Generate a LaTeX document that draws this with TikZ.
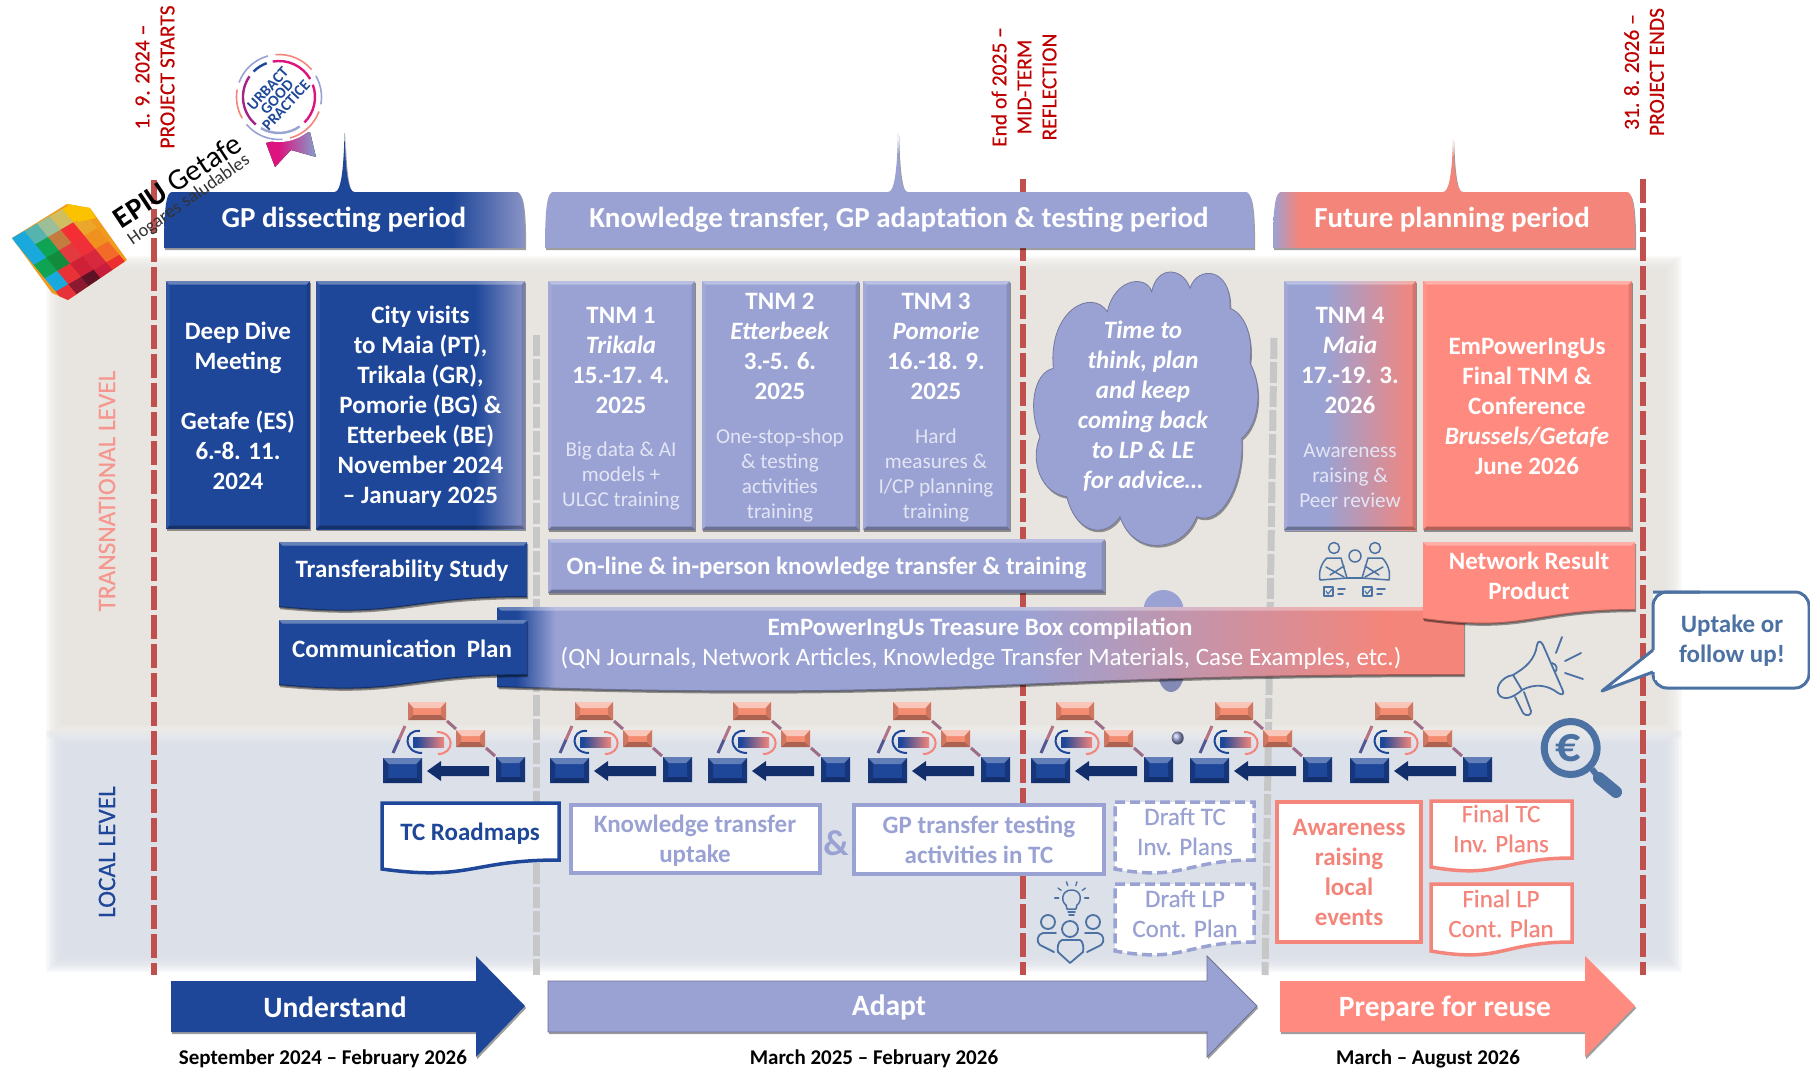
\documentclass[tikz,border=0pt]{standalone}
\usepackage{fontspec}
\setmainfont{Carlito}
\newfontfamily\semifam[FakeBold=0.35]{Carlito}
\usetikzlibrary{shadows,calc}
\definecolor{navy}{HTML}{1E4799}
\definecolor{navydk}{HTML}{122E6B}
\definecolor{fadeblue}{HTML}{8A94C6}
\definecolor{lav}{HTML}{9AA2D4}
\definecolor{salm}{HTML}{F4857B}
\definecolor{salmb}{HTML}{FF8A7F}
\definecolor{trisalm}{HTML}{F48C72}
\definecolor{redline}{HTML}{C0504D}
\definecolor{darkred}{HTML}{C00000}
\definecolor{bandg}{HTML}{E8E5E1}
\definecolor{bandb}{HTML}{DCE0E8}
\definecolor{icon}{HTML}{4C71A3}
\definecolor{smalltxt}{HTML}{E2E5F4}
\definecolor{cubeor}{HTML}{F09A1E}
\definecolor{cubegold}{HTML}{FBC200}
\definecolor{ribpink}{HTML}{DD1480}
\pgfdeclarehorizontalshading{navyfade}{100bp}{color(0bp)=(navy); color(63bp)=(navy); color(75bp)=(fadeblue); color(100bp)=(fadeblue)}
\pgfdeclarehorizontalshading{tabnavy}{100bp}{color(0bp)=(navy); color(65bp)=(navy); color(75bp)=(fadeblue); color(100bp)=(fadeblue)}
\pgfdeclarehorizontalshading{tabfut}{100bp}{color(0bp)=(lav); color(25bp)=(lav); color(28.5bp)=(salm); color(100bp)=(salm)}
\pgfdeclarehorizontalshading{tnmfour}{100bp}{color(0bp)=(lav); color(40bp)=(lav); color(75bp)=(salm); color(100bp)=(salm)}
\pgfdeclarehorizontalshading{treasure}{100bp}{color(0bp)=(navy); color(26bp)=(navy); color(28bp)=(lav); color(52bp)=(lav); color(71bp)=(salm); color(100bp)=(salm)}
\pgfdeclarehorizontalshading{iconbar}{100bp}{color(0bp)=(navy); color(30bp)=(navy); color(75bp)=(salm); color(100bp)=(salm)}
\pgfdeclarehorizontalshading{ribbon}{100bp}{color(0bp)=(ribpink); color(38bp)=(ribpink); color(72bp)=(fadeblue); color(100bp)=(fadeblue)}
\newcommand\fz[2]{\fontsize{#1}{#2}\selectfont}
\newcommand\smallbev[8]{%
  \fill[#5] (#1,#2) rectangle (#3,#4);
  \fill[#6] (#1,#2) -- (#3,#2) -- ({#3-6},{#2+6}) -- ({#1+6},{#2+6}) -- cycle;
  \fill[#7] (#1,#4) -- (#3,#4) -- ({#3-5},{#4-5}) -- ({#1+5},{#4-5}) -- cycle;
  \fill[#8] (#3,#2) -- (#3,#4) -- ({#3-5},{#4-5}) -- ({#3-5},{#2+6}) -- cycle;
  \fill[#8] (#1,#2) -- (#1,#4) -- ({#1+5},{#4-5}) -- ({#1+5},{#2+6}) -- cycle;
}
\tikzset{
 softshadow/.style={drop shadow={shadow xshift=1.2pt,shadow yshift=-2.2pt,opacity=.38,fill=black}},
 bev/.style={path picture={
   \coordinate (nw) at (path picture bounding box.north west);
   \coordinate (ne) at (path picture bounding box.north east);
   \coordinate (sw) at (path picture bounding box.south west);
   \coordinate (se) at (path picture bounding box.south east);
   \fill[white,opacity=.32] (nw)--(ne)--([shift={(-#1,#1)}]ne)--([shift={(#1,#1)}]nw)--cycle;
   \fill[black,opacity=.3] (sw)--(se)--([shift={(-#1,-#1)}]se)--([shift={(#1,-#1)}]sw)--cycle;
   \fill[black,opacity=.12] (ne)--(se)--([shift={(-#1,-#1)}]se)--([shift={(-#1,#1)}]ne)--cycle;
   \fill[white,opacity=.08] (nw)--(sw)--([shift={(#1,-#1)}]sw)--([shift={(#1,#1)}]nw)--cycle;
 }},
 topbev/.style={path picture={
   \coordinate (nw) at (path picture bounding box.north west);
   \coordinate (ne) at (path picture bounding box.north east);
   \fill[white,opacity=.32] (nw)--(ne)--([shift={(-#1,#1)}]ne)--([shift={(#1,#1)}]nw)--cycle;
 }},
 txtbase/.style={align=center,inner sep=0pt,text=white},
 txt/.style={txtbase,yshift=-1.5pt},
 headtxt/.style={txt,font=\fz{29}{30}\bfseries},
 boxtxt/.style={txt,font=\fz{25}{30}\bfseries},
 smalltx/.style={txt,text=smalltxt,font=\fz{21.2}{25}},
 localtxt/.style={txt,font=\fz{25}{30}\bfseries},
 localthin/.style={txt,font=\semifam\fz{25}{30}},
 redrule/.style={draw=redline,line width=5.5pt,dash pattern=on 24pt off 5pt},
 greyrule/.style={draw=black!22,line width=7pt,dash pattern=on 21pt off 3pt},
 datetxt/.style={txtbase,text=darkred,font=\semifam\fz{21.5}{25},rotate=90},
 leveltxt/.style={txtbase,font=\semifam\fz{25.3}{28},rotate=90},
 arrowtxt/.style={txt,font=\fz{29.5}{30}\bfseries},
 periodtxt/.style={txt,text=black,font=\fz{21}{24}\bfseries},
 iconline/.style={draw=icon,line width=1.8pt,line join=round,line cap=round},
 triad/.pic={
   \smallbev{0}{1}{39}{26}{navy}{navy!70!white}{navydk}{navydk!70!navy}
   \smallbev{113}{0}{142}{25}{navy}{navy!70!white}{navydk}{navydk!70!navy}
   \fill[navydk] (106,9) -- (58,9) -- (58,4) -- (44,14) -- (58,24) -- (58,19) -- (106,19) -- cycle;
   \smallbev{25}{-55}{63}{-37}{trisalm}{trisalm!50!white}{trisalm!70!black}{trisalm!85!black}
   \smallbev{73}{-27}{102}{-10}{trisalm}{trisalm!50!white}{trisalm!70!black}{trisalm!85!black}
   \draw[navy!75!salm,line width=3pt] (10,-4) -- (16,-17.5);
   \draw[navy!30!salm,line width=3pt] (16,-17.5) -- (22,-31);
   \draw[salm!60!navy,line width=3pt] (64,-36) -- (73,-28);
   \draw[salm!60!navy,line width=3pt] (103,-9) -- (112,-1);
   \shade[shading=iconbar] (30,-20) rectangle (61,-10);
   \draw[navy,line width=2pt] (37,-26) .. controls (20,-28) and (20,-4) .. (39,-4);
   \draw[salm,line width=2pt] (54,-25) .. controls (72,-25) and (72,-3) .. (55,-3);
 },
}
% name x1 y1 x2 y2 style
\newcommand\bbox[6]{\node[rectangle,inner sep=0pt,minimum width={(#4-#2)*1pt},minimum height={(#5-#3)*1pt},softshadow,bev=3.5,#6] (#1) at ({(#2+#4)/2},{(#3+#5)/2}) {};}
% x1 y1 x2 yR yL style
\newcommand\wave[6]{%
  \pgfmathsetmacro\wxm{(#1+#3)/2}%
  \pgfmathsetmacro\wcc{#5+0.173*(#5-#2)/0.934}%
  \path[#6] (#1,#2) -- (#3,#2) -- (#3,#4) .. controls (\wxm,#4) and (\wxm,\wcc) .. (#1,#5) -- cycle;
}
\newcommand\waveedge[5]{%
  \pgfmathsetmacro\wxm{(#1+#3)/2}%
  \pgfmathsetmacro\wcc{#5+0.173*(#5-#2)/0.934}%
  \draw[black,opacity=.3,line width=2pt] (#3,#4) .. controls (\wxm,#4) and (\wxm,\wcc) .. (#1,#5);
}
% x1 y1 x2 y2 spike-x spike-y style
\newcommand\tab[7]{%
  \path[softshadow,#7] (#1,#4) .. controls (#1,{#2+18}) and ({#1+2},#2) .. ({#1+8},#2) -- ({#5-10},#2)
   .. controls ({#5-4},#2) and ({#5-1},{#2-18}) .. (#5,#6)
   .. controls ({#5+1},{#2-18}) and ({#5+4},#2) .. ({#5+10},#2) -- ({#3-8},#2)
   .. controls ({#3-2},#2) and (#3,{#2+18}) .. (#3,#4) -- cycle;
}
\newcommand\blockarrow[2]{%
  \path[softshadow,#2] #1;
}
\begin{document}
\begin{tikzpicture}[x=1pt,y=-1pt]
\useasboundingbox (0,0) rectangle (1810,1068);
\fill[white] (0,0) rectangle (1810,1068);
% ---------- bands
\foreach \i in {0,...,17}{
  \fill[bandg,opacity=.15] ({46+1.3*\i},{256+1.1*\i}) rectangle ({1682-1.4*\i},{738-1.2*\i});
  \fill[bandb,opacity=.15] ({46+1.3*\i},{730+1.1*\i}) rectangle ({1682-1.4*\i},{972-1.2*\i});
}
% ---------- rules
\coordinate (redAtop) at (154,180); \coordinate (redAbot) at (154,975);
\coordinate (redBtop) at (1023,179); \coordinate (redBbot) at (1023,975);
\coordinate (redCtop) at (1643,179); \coordinate (redCbot) at (1643,975);
\coordinate (greyAtop) at (536,335); \coordinate (greyAbot) at (536,975);
\coordinate (greyBtop) at (1274,338); \coordinate (greyBbot) at (1265,975);
\draw[greyrule] (greyAtop) -- (greyAbot);
\draw[greyrule] (greyBtop) -- (greyBbot);
\draw[redrule] (redAtop) -- (redAbot);
\draw[redrule] (redBtop) -- (redBbot);
\draw[redrule] (redCtop) -- (redCbot);
% ---------- date labels
\node[datetxt] (startlbl) at (155,77) {1. 9. 2024 –\\PROJECT STARTS};
\node[datetxt] (midlbl) at (1024,87) {End of 2025 –\\MID-TERM\\REFLECTION};
\node[datetxt] (endlbl) at (1644,72) {31. 8. 2026 –\\PROJECT ENDS};
% ---------- level labels
\node[leveltxt,text=salm!85!white] (translbl) at (107,491) {TRANSNATIONAL LEVEL};
\node[leveltxt,text=navy] (locallbl) at (107,852) {LOCAL LEVEL};
% ---------- period tabs
\tab{164}{192}{525}{248}{344.5}{133}{shade,shading=tabnavy}
\tab{545}{192}{1254}{248}{898}{133}{fill=lav}
\tab{1273}{192}{1635}{248}{1453}{139}{shade,shading=tabfut}
\node[headtxt] (tabA) at (344,218) {GP dissecting period};
\node[headtxt] (tabB) at (899,218) {Knowledge transfer, GP adaptation \& testing period};
\node[headtxt] (tabC) at (1452,218) {Future planning period};
% ---------- top row boxes
\bbox{deep}{166}{281}{310}{529}{fill=navy}
\bbox{city}{316}{281}{525}{529}{shade,shading=navyfade}
\bbox{tnmA}{548}{281}{695}{530}{fill=lav}
\bbox{tnmB}{702}{281}{859}{530}{fill=lav}
\bbox{tnmC}{863}{281}{1010}{530}{fill=lav}
\bbox{tnmD}{1284}{281}{1416}{530}{shade,shading=tnmfour}
\bbox{final}{1423}{281}{1632}{530}{fill=salmb}
\node[boxtxt] (deepT) at (238,404) {Deep Dive\\Meeting\\[30pt]Getafe (ES)\\6.-8. 11.\\2024};
\node[boxtxt] (cityT) at (420.5,405) {City visits\\to Maia (PT),\\Trikala (GR),\\Pomorie (BG) \&\\Etterbeek (BE)\\November 2024\\– January 2025};
\node[boxtxt] (finalT) at (1527,405) {EmPowerIngUs\\Final TNM \&\\Conference\\\textit{Brussels/Getafe}\\June 2026};
\node[boxtxt] (tnmAh) at (621,359) {TNM 1\\\textit{Trikala}\\15.-17. 4.\\2025};
\node[smalltx] (tnmAb) at (621,474) {Big data \& AI\\models +\\ULGC training};
\node[boxtxt] (tnmBh) at (780,345) {TNM 2\\\textit{Etterbeek}\\3.-5. 6.\\2025};
\node[smalltx] (tnmBb) at (780,473.5) {One-stop-shop\\\& testing\\activities\\training};
\node[boxtxt] (tnmCh) at (936,345) {TNM 3\\\textit{Pomorie}\\16.-18. 9.\\2025};
\node[smalltx] (tnmCb) at (936,473.5) {Hard\\measures \&\\I/CP planning\\training};
\node[boxtxt] (tnmDh) at (1350,359) {TNM 4\\\textit{Maia}\\17.-19. 3.\\2026};
\node[smalltx] (tnmDb) at (1350,474) {Awareness\\raising \&\\Peer review};
% ---------- thought cloud
\path[fill=lav,draw=lav!75!black,line width=.8pt,softshadow] (1053.3,368.3)
 .. controls (1048,310) and (1092,288) .. (1107.3,311.7)
 .. controls (1115,277) and (1147,275) .. (1151.7,291.7)
 .. controls (1157,265) and (1183,267) .. (1190,288.3)
 .. controls (1197,265) and (1232,267) .. (1230,308.3)
 .. controls (1247,315) and (1253,340) .. (1250,363)
 .. controls (1263,387) and (1260,423) .. (1241.7,438.3)
 .. controls (1245,480) and (1223,527) .. (1196.7,516.7)
 .. controls (1183,553) and (1133,557) .. (1120,516.7)
 .. controls (1107,537) and (1077,537) .. (1066.7,496.7)
 .. controls (1040,493) and (1030,460) .. (1040,436.7)
 .. controls (1028,410) and (1033,373) .. (1053.3,368.3) -- cycle;
\node[txt,font=\fz{25}{30}\bfseries\itshape] (cloudtxt) at (1143,405) {Time to\\think, plan\\and keep\\coming back\\to LP \& LE\\for advice…};
% ---------- second row
\bbox{online}{548}{539}{1105}{593}{fill=lav}
\node[boxtxt] (onlineT) at (826.5,566) {On-line \& in-person knowledge transfer \& training};
\wave{279}{542}{527}{597}{607}{fill=navy,softshadow,topbev=3.5}
\waveedge{279}{542}{527}{597}{607}
\node[boxtxt] (transfer) at (402,569) {Transferability Study};
% bubbles behind the treasure box
\fill[lav] (1163.5,610) ellipse (20 and 20);
\fill[lav!85!black] (1171,672) ellipse (13 and 20);
\shade[ball color=lav] (1177.7,738) ellipse (6 and 6.5);
% treasure box
\wave{497.5}{607}{1464}{675}{687}{shade,shading=treasure,softshadow,topbev=3.5}
\waveedge{497.5}{607}{1464}{675}{687}
\node[boxtxt] (treasureA) at (980,627) {EmPowerIngUs Treasure Box compilation};
\node[txt,font=\fz{25}{30}] (treasureB) at (981,657) {(QN Journals, Network Articles, Knowledge Transfer Materials, Case Examples, etc.)};
\wave{279}{620}{527}{675}{685}{fill=navy,softshadow,topbev=3.5}
\waveedge{279}{620}{527}{675}{685}
\node[boxtxt] (commplan) at (402,647) {Communication\hspace{.42em}Plan};
\wave{1423}{542}{1635}{610}{619}{fill=salmb,softshadow,topbev=3.5}
\waveedge{1423}{542}{1635}{610}{619}
\node[boxtxt] (netres) at (1529,574) {Network Result\\Product};
% ---------- triads
\foreach \px in {383,550,708,868,1031,1190,1350}{ \pic at (\px,757) {triad}; }
% ---------- local boxes
\wave{382}{803}{559}{860}{869}{fill=white,draw=navy,line width=3.5pt}
\node[localtxt,text=navy] (roadmaps) at (470,832) {TC Roadmaps};
\node[rectangle,fill=white,draw=lav,line width=4pt,minimum width=249pt,minimum height=68pt,inner sep=0pt] (uptake) at (695,838.5) {};
\node[localtxt,text=lav] (uptakeT) at (695,839) {Knowledge transfer\\uptake};
\node[txt,text=lav,font=\fz{36}{40}\bfseries] (amp) at (836,842) {\&};
\node[rectangle,fill=white,draw=lav,line width=4pt,minimum width=250pt,minimum height=69pt,inner sep=0pt] (gptest) at (979,839) {};
\node[localtxt,text=lav] (gptestT) at (979,838) {GP transfer testing\\activities in TC};
\wave{1115}{802}{1254}{860}{869}{fill=white,draw=lav,line width=3.5pt,dash pattern=on 10pt off 5pt}
\node[localthin,text=lav] (drafttc) at (1185,830) {Draft TC\\Inv. Plans};
\wave{1115}{884}{1254}{942}{951}{fill=white,draw=lav,line width=3.5pt,dash pattern=on 10pt off 5pt}
\node[localthin,text=lav] (draftlp) at (1185,912) {Draft LP\\Cont. Plan};
\node[rectangle,fill=white,draw=salm,line width=3.5pt,minimum width=144pt,minimum height=140pt,inner sep=0pt] (aware) at (1349,872) {};
\node[localtxt,text=salm] (awareT) at (1349,871) {Awareness\\raising\\local\\events};
\wave{1431}{801}{1572}{858}{867}{fill=white,draw=salm,line width=3.5pt}
\node[localthin,text=salm] (finaltc) at (1501,827) {Final TC\\Inv. Plans};
\wave{1431}{884}{1572}{942}{951}{fill=white,draw=salm,line width=3.5pt}
\node[localthin,text=salm] (finallp) at (1501,912) {Final LP\\Cont. Plan};
% ---------- block arrows
\blockarrow{(171,981) -- (476,981) -- (476,956) -- (525,1006) -- (476,1057) -- (476,1032) -- (171,1032) -- cycle}{fill=navy}
\blockarrow{(548,981) -- (1207,981) -- (1207,956) -- (1257,1006) -- (1207,1057) -- (1207,1032) -- (548,1032) -- cycle}{fill=lav,draw=lav!70!black,line width=.8pt}
\blockarrow{(1280,981) -- (1585,981) -- (1585,956) -- (1635,1006) -- (1585,1057) -- (1585,1032) -- (1280,1032) -- cycle}{fill=salmb}
\node[arrowtxt] (understand) at (335,1006) {Understand};
\node[arrowtxt] (adapt) at (889,1006) {Adapt};
\node[arrowtxt] (prepare) at (1445,1007) {Prepare for reuse};
\node[periodtxt] (perA) at (323,1057) {September 2024 – February 2026};
\node[periodtxt] (perB) at (874,1057) {March 2025 – February 2026};
\node[periodtxt] (perC) at (1428,1057) {March – August 2026};
% ---------- callout
\path[fill=white,draw=icon,line width=3pt,line join=round,rounded corners=14pt] (1653,592) -- (1809,592) -- (1809,688) -- (1653,688) -- (1653,672);
\path[fill=white,draw=icon,line width=3pt,line join=round] (1653,672) -- (1602,691) -- (1653,650);
\path[fill=white] (1655,640) rectangle (1670,680);
\draw[icon,line width=3pt,rounded corners=14pt] (1653,650) -- (1653,592) -- (1700,592);
\node[txt,text=icon,font=\fz{25}{30}\bfseries] (uptakefollow) at (1732,639) {Uptake or\\follow up!};
% ---------- megaphone
\draw[iconline] (1513,675) .. controls (1525,668) and (1535,660) .. (1537,645) .. controls (1538,640) and (1541,641) .. (1543,645) -- (1563,691) .. controls (1564,695) and (1562,695) .. (1558,693) .. controls (1548,685) and (1535,683) .. (1522,690) -- cycle;
\draw[iconline] (1513,675) .. controls (1500,677) and (1494,690) .. (1500,696) .. controls (1506,701) and (1515,696) .. (1522,690);
\draw[iconline] (1515,697) -- (1523,713) .. controls (1526,717) and (1532,715) .. (1531,711) -- (1524,692);
\draw[iconline] (1552,663) .. controls (1557,664) and (1558,670) .. (1555,672);
\draw[iconline] (1562,637) -- (1556,653);
\draw[iconline] (1581,653) -- (1565,661);
\draw[iconline] (1583,679) -- (1565,673);
% ---------- magnifier
\draw[icon,line width=7pt] (1570.7,748) circle (26.5);
\draw[icon,line width=12pt,line cap=round] (1599,778) -- (1616,792);
\draw[icon,line width=6pt] (1592,769) -- (1599,778);
\node[txtbase,text=icon,font=\fz{50}{50}\bfseries] (euro) at (1568,748) {€};
% ---------- people with crossed arms
\draw[iconline,line width=1.5pt] (1334,548) circle (5.5) (1355,556) circle (6) (1375,548) circle (5.5);
\draw[iconline,line width=1.5pt] (1327,558) -- (1341,558) -- (1347,578) -- (1320,580) .. controls (1318,572) and (1322,562) .. (1327,558);
\draw[iconline,line width=1.5pt] (1382,558) -- (1368,558) -- (1362,578) -- (1389,580) .. controls (1391,572) and (1387,562) .. (1382,558);
\draw[iconline,line width=1.5pt] (1326,567) -- (1344,577) (1330,575) -- (1344,566);
\draw[iconline,line width=1.5pt] (1383,567) -- (1365,577) (1379,575) -- (1365,566);
\draw[iconline,line width=1.5pt] (1347,578) -- (1362,578);
\draw[iconline,line width=1.5pt] (1324,587) rectangle (1333,596) (1363,587) rectangle (1372,596);
\draw[iconline,line width=1.5pt] (1338,589) -- (1345,589) (1338,594) -- (1343,594) (1377,589) -- (1385,589) (1377,594) -- (1382,594);
\draw[iconline,line width=1.2pt] (1326,591) -- (1328,594) -- (1332,589) (1365,591) -- (1367,594) -- (1371,589);
% ---------- bulb and people
\draw[iconline,line width=1.5pt] (1067,909) -- (1066,905) .. controls (1061,902) and (1061,890) .. (1071.7,890) .. controls (1082,890) and (1082,902) .. (1077,905) -- (1076,909) -- cycle;
\draw[iconline,line width=1.5pt] (1068,912) -- (1075,912) (1069,915) -- (1074,915);
\foreach \a in {0,36,72,108,144,180}{ \draw[iconline,line width=1.3pt] ($(1071.7,898)+(\a+180:13)$) -- ($(1071.7,898)+(\a+180:17)$); }
\draw[iconline,line width=1.8pt] (1048,922) circle (7) (1070,929) circle (8) (1093,922) circle (7);
\draw[iconline,line width=1.8pt] (1062,940) -- (1080,940) .. controls (1083,941) and (1084,948) .. (1083,952) -- (1070,963) -- (1058,952) .. controls (1057,948) and (1058,941) .. (1062,940);
\draw[iconline,line width=1.8pt] (1054,952) -- (1040,945) .. controls (1036,942) and (1037,934) .. (1043,933) -- (1056,933);
\draw[iconline,line width=1.8pt] (1087,952) -- (1101,945) .. controls (1105,942) and (1104,934) .. (1098,933) -- (1085,933);
% ---------- EPIU cube
\coordinate (cubeA) at (11.7,238.3);
\begin{scope}
\clip (12,238) -- (67,204) -- (90,208) -- (127,260) -- (68,300) -- (52,293) -- cycle;
\fill[cubeor] (0,190) rectangle (140,310);
\foreach \row [count=\j from 0] in {{19A9DC,55B4AE,9CBE98,D0BE60,FBC200},{19A9DC,0FA454,C47B40,F42E33,EBA72B},{0FA454,128C3C,E23A3E,F03038,F0901E},{19A9DC,E83238,CE2138,D8283E,F46A28},{E8323A,8B1A30,5E1226,C81E3C,EE2F2F}}{
  \foreach \c [count=\i from 0] in \row {
    \definecolor{cellc}{HTML}{\c}
    \fill[cellc] ($(cubeA)+\i*(12.67,-7.33)+\j*(11,13.33)$) -- ++(12.9,-7.5) -- ++(11.2,13.5) -- ++(-12.9,7.5) -- cycle;
  }
}
\fill[cubegold] (67,204) -- (90,208) -- (96,218) -- (78,222) -- cycle;
\end{scope}
\node[txtbase,text=black,rotate=33.5,font=\fz{30}{32}] (logoA) at (177,181) {\textbf{EPIU} Getafe};
\node[txtbase,text=black!80,rotate=35,font=\fz{18.5}{22}] (logoB) at (189,200) {Hogares saludables};
% ---------- URBACT badge
\fill[shading=ribbon] (266,143) -- (275,167) -- (291,150) -- (316,157) -- (310,132) -- cycle;
\fill[white] (279,97) circle (45);
\foreach \a/\b/\c in {20/75/salm,85/140/lav,150/190/salm,200/255/lav,265/320/salm,330/370/lav}{
  \draw[\c,line width=1.6pt] (279,97) ++(\a:42.5) arc (\a:\b:42.5);
}
\foreach \a/\b/\c in {-20/45/ribpink,55/120/lav,130/215/ribpink!70!navy,225/250/navy,260/330/ribpink}{
  \draw[\c,line width=2.4pt] (279,97) ++(\a:36) arc (\a:\b:36);
}
\node[txtbase,text=navy,rotate=47,font=\fz{15.5}{12.5}\bfseries] (badge) at (277,97) {URBACT\\GOOD\\PRACTICE};
\end{tikzpicture}
\end{document}
